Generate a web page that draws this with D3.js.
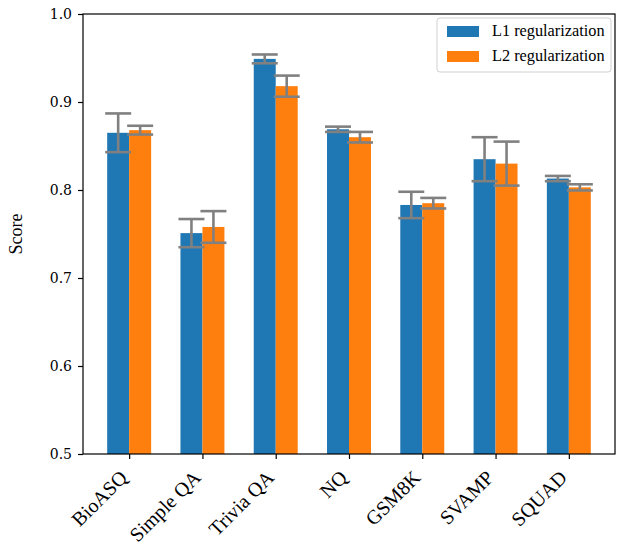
<!DOCTYPE html>
<html>
<head>
<meta charset="utf-8">
<script src="https://cdn.jsdelivr.net/npm/d3@7"></script>
<style>
  body { margin: 0; background: #fff; }
  svg text { font-family: "Liberation Serif", "Times New Roman", serif !important; }
  svg .ytick text { font-family: "DejaVu Serif", serif !important; }
</style>
</head>
<body>
<svg id="chart" width="617" height="550"></svg>
<script>
const categories = ["BioASQ", "Simple QA", "Trivia QA", "NQ", "GSM8K", "SVAMP", "SQUAD"];
const seriesNames = ["L1 regularization", "L2 regularization"];
const l1Values = [0.865, 0.751, 0.949, 0.869, 0.783, 0.835, 0.813];
const l1Errors = [0.022, 0.016, 0.005, 0.003, 0.015, 0.025, 0.003];
const l2Values = [0.868, 0.758, 0.918, 0.860, 0.785, 0.830, 0.803];
const l2Errors = [0.005, 0.018, 0.012, 0.006, 0.006, 0.025, 0.0035];
const yTicks = [0.5, 0.6, 0.7, 0.8, 0.9, 1.0];
const colors = ["#1f77b4", "#ff7f0e"];

const SERIF = "'Liberation Serif', 'Times New Roman', serif";
const svg = d3.select("#chart");
const W = 617, H = 550;
const x0 = 83, xR = 615;
const yTop = 14, yBot = 454;

const barW = 0.3;
const xScale = d3.scaleLinear().domain([-0.63, 6.63]).range([x0, xR]);
const yScale = d3.scaleLinear().domain([0.5, 1.0]).range([yBot, yTop]);

const series = [
  { name: seriesNames[0], values: l1Values, errors: l1Errors, offset: -barW / 2, color: colors[0] },
  { name: seriesNames[1], values: l2Values, errors: l2Errors, offset: barW / 2, color: colors[1] }
];

const plot = svg.append("g");

series.forEach(s => {
  plot.selectAll(null).data(categories).enter().append("rect")
    .attr("x", (d, i) => xScale(i + s.offset - barW / 2))
    .attr("width", (d, i) => xScale(i + s.offset + barW / 2) - xScale(i + s.offset - barW / 2))
    .attr("y", (d, i) => yScale(s.values[i]))
    .attr("height", (d, i) => yScale(0.5) - yScale(s.values[i]))
    .attr("fill", s.color);
});

const capHalf = 13;
series.forEach(s => {
  const g = plot.selectAll(null).data(categories).enter().append("g")
    .attr("stroke", "#808080").attr("stroke-width", 2.6);
  g.append("line")
    .attr("x1", (d, i) => xScale(i + s.offset)).attr("x2", (d, i) => xScale(i + s.offset))
    .attr("y1", (d, i) => yScale(s.values[i] - s.errors[i]))
    .attr("y2", (d, i) => yScale(s.values[i] + s.errors[i]));
  [-1, 1].forEach(sg => {
    g.append("line")
      .attr("x1", (d, i) => xScale(i + s.offset) - capHalf)
      .attr("x2", (d, i) => xScale(i + s.offset) + capHalf)
      .attr("y1", (d, i) => yScale(s.values[i] + sg * s.errors[i]))
      .attr("y2", (d, i) => yScale(s.values[i] + sg * s.errors[i]));
  });
});

const yAxis = d3.axisLeft(yScale).tickValues(yTicks).tickFormat(d3.format(".1f")).tickSize(5).tickPadding(6);
const ya = svg.append("g").attr("class", "ytick").attr("transform", `translate(${x0},0)`).call(yAxis);
ya.attr("font-family", null);
ya.select(".domain").remove();
ya.selectAll("line").attr("stroke", "#000").attr("stroke-width", 1.2);
ya.selectAll("text").attr("font-size", 14).attr("fill", "#000");

const xAxis = d3.axisBottom(xScale).tickValues(d3.range(categories.length)).tickFormat(i => categories[i]).tickSize(5);
const xa = svg.append("g").attr("transform", `translate(0,${yBot})`).call(xAxis);
xa.attr("font-family", null);
xa.select(".domain").remove();
xa.selectAll("line").attr("stroke", "#000").attr("stroke-width", 1.2);
xa.selectAll("text")
  .attr("font-size", 20).attr("fill", "#000")
  .style("font-family", SERIF)
  .attr("text-anchor", "end")
  .attr("y", 0)
  .attr("transform", "translate(-11,15) rotate(-45)")
  .attr("dy", "0.7em");

svg.append("rect").attr("x", x0).attr("y", yTop).attr("width", xR - x0).attr("height", yBot - yTop)
  .attr("fill", "none").attr("stroke", "#000").attr("stroke-width", 1.2);

svg.append("text").attr("transform", `translate(22,${(yTop + yBot) / 2}) rotate(-90)`)
  .attr("text-anchor", "middle").attr("font-size", 18).style("font-family", SERIF).text("Score");

const lg = svg.append("g").attr("transform", "translate(437,18)");
lg.append("rect").attr("width", 174).attr("height", 54).attr("rx", 3)
  .attr("fill", "#fff").attr("fill-opacity", 0.8).attr("stroke", "#d0d0d0").attr("stroke-width", 1);
series.forEach((s, k) => {
  lg.append("rect").attr("x", 10).attr("y", 8 + k * 25).attr("width", 32).attr("height", 11).attr("fill", s.color);
  lg.append("text").attr("x", 55).attr("y", 18 + k * 25).attr("font-size", 16.3).style("font-family", SERIF).text(s.name);
});
</script>
</body>
</html>
